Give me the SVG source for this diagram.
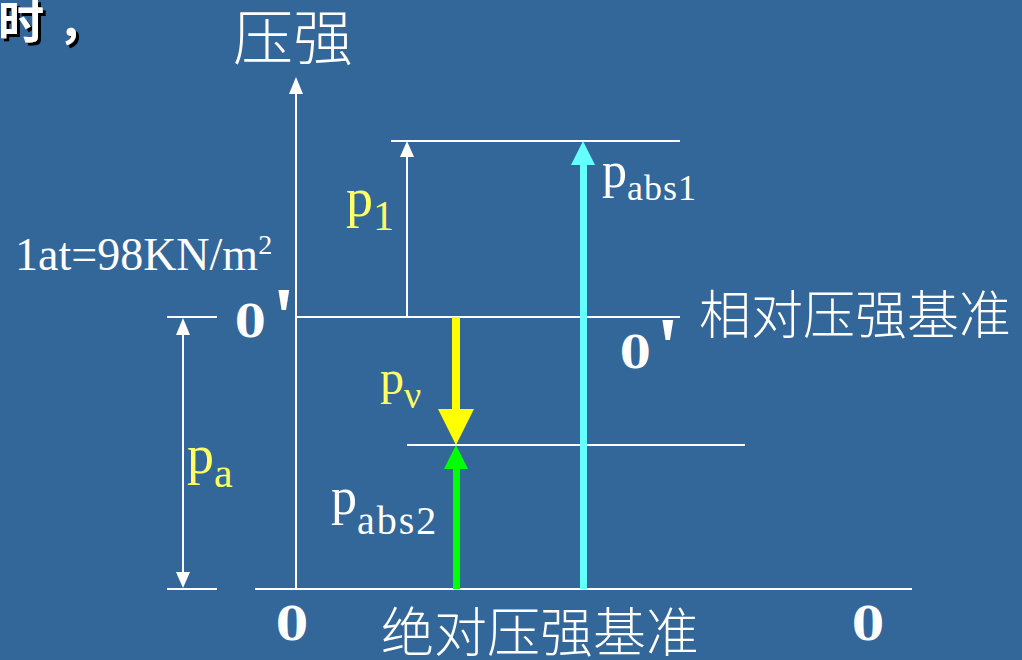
<svg xmlns="http://www.w3.org/2000/svg" width="1022" height="660" viewBox="0 0 1022 660">
<defs>
<filter id="shadow" x="-10%" y="-10%" width="130%" height="130%">
<feDropShadow dx="3" dy="3" stdDeviation="0.5" flood-color="#000" flood-opacity="1"/>
</filter>
</defs>
<style>
.ln{stroke:#fff;stroke-width:2;fill:none}
.cjk{font-family:"Noto Sans CJK SC","Noto Sans CJK JP",sans-serif;fill:#fff}
.zero{font-family:"DejaVu Serif",serif;font-weight:bold;fill:#fff}
.prime{font-family:"Liberation Serif","DejaVu Serif",serif;font-weight:bold;fill:#fff}
.ser{font-family:"Liberation Serif","DejaVu Serif",serif}
.w{fill:#fff}
.y{fill:#ffff66}
</style>
<rect width="1022" height="660" fill="#336699"/>
<g id="title" filter="url(#shadow)">
<text x="-2" y="38" class="cjk" font-size="46" font-weight="bold">时<tspan dx="14">，</tspan></text>
</g>
<g id="connectors">
<line class="ln" x1="296" y1="93" x2="296" y2="589"/>
<polygon class="w" points="296,77 289,94 303,94"/>
<line class="ln" x1="391" y1="141" x2="680" y2="141"/>
<line class="ln" x1="296" y1="317" x2="680" y2="317"/>
<line class="ln" x1="407" y1="445" x2="745" y2="445"/>
<line class="ln" x1="255" y1="589" x2="912" y2="589"/>
<line class="ln" x1="167" y1="317" x2="217" y2="317"/>
<line class="ln" x1="167" y1="589" x2="217" y2="589"/>
<line class="ln" x1="407" y1="156" x2="407" y2="317"/>
<polygon class="w" points="407,141 400,157 414,157"/>
<line class="ln" x1="183" y1="334" x2="183" y2="573"/>
<polygon class="w" points="183,318 176,335 190,335"/>
<polygon class="w" points="183,588 176,572 190,572"/>
<rect x="580" y="163" width="7" height="426" fill="#66ffff"/>
<polygon points="583,141 571,165 595,165" fill="#66ffff"/>
<rect x="452" y="317" width="8" height="94" fill="#ffff00"/>
<polygon points="456,445 438,409 474,409" fill="#ffff00"/>
<rect x="453" y="467" width="7" height="122" fill="#00ff00"/>
<polygon points="456,445 444,469 468,469" fill="#00ff00"/>
</g>
<g id="axis-label"><text x="233" y="60" class="cjk" font-size="60" font-weight="300">压强</text></g>
<g id="at-label"><text x="15" y="270" class="ser w" font-size="46">1at=98KN/m<tspan font-size="28" dy="-16">2</tspan></text></g>
<g id="o-prime-left"><text x="235" y="337" class="zero" font-size="44">0</text><text x="272" y="346" class="prime" font-size="85">'</text></g>
<g id="o-prime-right"><text x="620" y="368" class="zero" font-size="44">0</text><text x="656" y="376" class="prime" font-size="85">'</text></g>
<g id="zero-left"><text x="276" y="640" class="zero" font-size="46">0</text></g>
<g id="zero-right"><text x="852" y="640" class="zero" font-size="46">0</text></g>
<g id="p1"><text x="346" y="216" class="ser y" font-size="54">p<tspan font-size="42" dy="14">1</tspan></text></g>
<g id="pabs1"><text x="602" y="187" class="ser w" font-size="50">p<tspan font-size="36" dy="13" letter-spacing="1">abs1</tspan></text></g>
<g id="pv"><text x="380" y="394" class="ser y" font-size="48">p<tspan font-size="38" dy="14">ν</tspan></text></g>
<g id="pa"><text x="187" y="473" class="ser y" font-size="54">p<tspan font-size="42" dy="14">a</tspan></text></g>
<g id="pabs2"><text x="331" y="514" class="ser w" font-size="52">p<tspan font-size="40" dy="20" letter-spacing="2">abs2</tspan></text></g>
<g id="rel-label"><text x="699" y="334" class="cjk" font-size="52" font-weight="300">相对压强基准</text></g>
<g id="abs-label"><text x="381" y="652" class="cjk" font-size="53" font-weight="300">绝对压强基准</text></g>
</svg>
